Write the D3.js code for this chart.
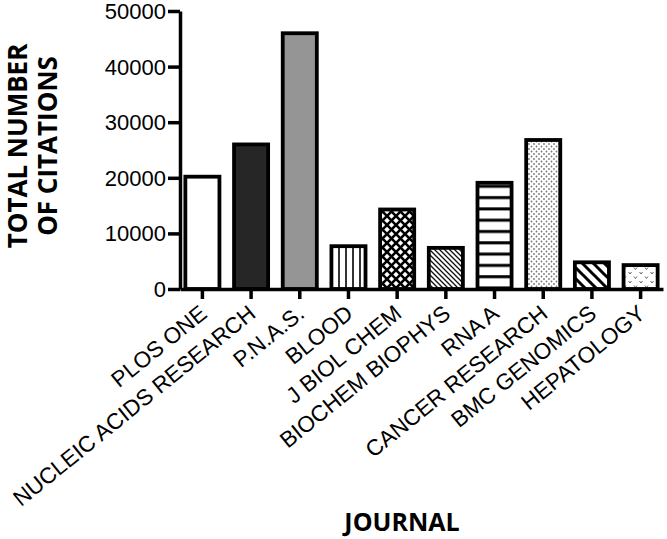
<!DOCTYPE html>
<html lang="en">
<head>
    <meta charset="UTF-8">
    <script src="https://cdnjs.cloudflare.com/ajax/libs/d3/7.8.5/d3.min.js"></script>
    <title>Citations by journal</title>
    <style>
        body { margin: 0; background: #fff; }
        .tick text { font-family: "Liberation Sans", Arial, sans-serif; fill: #000; }
        .title { font-family: "Open Sans", sans-serif; font-weight: bold; fill: #000; }
    </style>
</head>
<body>
<div id="plot"></div>
<script>
    // data
    var journals = ["PLOS ONE", "NUCLEIC ACIDS RESEARCH", "P.N.A.S.", "BLOOD", "J BIOL CHEM",
        "BIOCHEM BIOPHYS", "RNA A", "CANCER RESEARCH", "BMC GENOMICS", "HEPATOLOGY"];
    var citations = [20200, 26000, 46000, 7700, 14300, 7400, 19100, 26800, 4800, 4300];
    var fills = ["white", "#262626", "#959595", "url(#vlines)", "url(#cross)",
        "url(#thin)", "url(#hlines)", "url(#dots)", "url(#thick)", "url(#vees)"];
    var yTicks = [0, 10000, 20000, 30000, 40000, 50000];

    var W = 667, H = 539;
    var svg = d3.select("#plot").append("svg")
        .attr("width", W)
        .attr("height", H);

    // ---- fill patterns
    var defs = svg.append("defs");
    function pat(id, w, h) {
        var p = defs.append("pattern").attr("id", id)
            .attr("patternUnits", "userSpaceOnUse")
            .attr("width", w).attr("height", h);
        p.append("rect").attr("width", w).attr("height", h).attr("fill", "white");
        return p;
    }
    pat("vlines", 7, 7).append("rect").attr("x", 2).attr("width", 2).attr("height", 7).attr("fill", "#333");
    var cr = pat("cross", 9, 9);
    cr.append("path").attr("d", "M-2,-2 L11,11 M-2,7 L2,11 M7,-2 L11,2").attr("stroke", "#000").attr("stroke-width", 2.6);
    cr.append("path").attr("d", "M11,-2 L-2,11 M2,-2 L-2,2 M11,7 L7,11").attr("stroke", "#000").attr("stroke-width", 2.6);
    pat("thin", 5, 5).append("path").attr("d", "M-1,-1 L6,6 M-1,4 L1,6 M4,-1 L6,1").attr("stroke", "#111").attr("stroke-width", 1.3);
    pat("hlines", 11, 11.3).append("rect").attr("y", 4).attr("width", 11).attr("height", 3).attr("fill", "#000");
    var dt = pat("dots", 5, 5);
    dt.append("circle").attr("cx", 1.5).attr("cy", 1.5).attr("r", 0.9).attr("fill", "#777");
    dt.append("circle").attr("cx", 4).attr("cy", 4).attr("r", 0.9).attr("fill", "#777");
    pat("thick", 11, 11).append("path").attr("d", "M-2,-2 L13,13 M-2,9 L2,13 M9,-2 L13,2").attr("stroke", "#000").attr("stroke-width", 3);
    var vv = pat("vees", 11, 9);
    vv.append("path").attr("d", "M1.5,2 L3,4 L4.5,2 M7,6.5 L8.5,8.5 L10,6.5").attr("stroke", "#666").attr("stroke-width", 1).attr("fill", "none");

    // ---- scales
    var x = d3.scaleBand()
        .domain(journals)
        .range([180, 663])
        .paddingInner(0.3)
        .paddingOuter(0.11);
    var y = d3.scaleLinear()
        .domain([0, 50000])
        .range([289, 11]);

    // bars
    svg.append("g")
        .selectAll("rect")
        .data(journals)
        .enter()
        .append("rect")
        .attr("x", d => x(d))
        .attr("width", x.bandwidth())
        .attr("y", (d, i) => y(citations[i]))
        .attr("height", (d, i) => y(0) - y(citations[i]))
        .attr("fill", (d, i) => fills[i])
        .attr("stroke", "#000")
        .attr("stroke-width", 3.8);

    // y axis
    var yAxis = svg.append("g")
        .attr("transform", "translate(180,0)")
        .call(d3.axisLeft(y).tickValues(yTicks).tickFormat(d3.format("d")).tickSize(12).tickSizeOuter(0).tickPadding(2));
    yAxis.selectAll("path, line").attr("stroke", "#000").attr("stroke-width", 3.5);
    yAxis.selectAll("text").style("font-size", "22px").attr("dy", "0.34em");

    // x axis
    var xAxis = svg.append("g")
        .attr("transform", "translate(0," + y(0) + ")")
        .call(d3.axisBottom(x).tickSize(10).tickSizeOuter(0));
    xAxis.selectAll("path, line").attr("stroke", "#000").attr("stroke-width", 3.5);
    xAxis.selectAll("text")
        .style("font-size", "22.5px")
        .attr("text-anchor", "end")
        .attr("dy", 0)
        .attr("y", 0)
        .attr("transform", "translate(6,27) rotate(-39)");

    // titles
    var yt = svg.append("text")
        .attr("class", "title")
        .attr("transform", "translate(27,146) rotate(-90)")
        .attr("text-anchor", "middle")
        .style("font-size", "26px");
    yt.append("tspan").attr("x", 0).attr("y", 0).text("TOTAL NUMBER");
    yt.append("tspan").attr("x", 0).attr("y", 30).text("OF CITATIONS");

    svg.append("text")
        .attr("class", "title")
        .attr("x", 402)
        .attr("y", 531)
        .attr("text-anchor", "middle")
        .style("font-size", "25px")
        .text("JOURNAL");
</script>
</body>
</html>
